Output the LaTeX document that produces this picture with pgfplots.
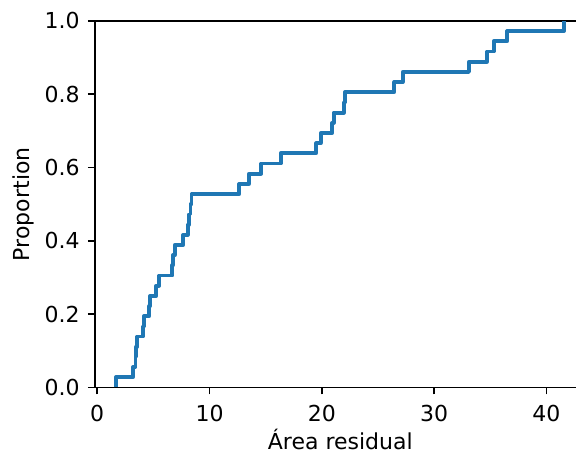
\documentclass[border=0pt]{standalone}
\usepackage{fontspec}
\setmainfont{DejaVu Sans}
\usepackage{pgfplots}
\pgfplotsset{compat=1.18}
\definecolor{tabblue}{HTML}{1F77B4}

\begin{document}
\fontsize{11}{13}\selectfont
\begin{tikzpicture}
\begin{axis}[
    name=ax,
    scale only axis,
    width=240.5pt, height=183.25pt,
    xmin=-0.2, xmax=42.63,
    ymin=0, ymax=1,
    axis x line*=box, axis y line*=left,
    axis line style={line width=0.8pt, -},
    xtick={0,10,20,30,40},
    ytick={0,0.2,0.4,0.6,0.8,1},
    tick align=outside,
    xtick pos=bottom, ytick pos=left,
    major tick length=3.5pt,
    tick style={line width=0.8pt, black},
    /pgf/number format/assume math mode=true,
    ticklabel style={font=\fontsize{11}{13}\selectfont},
    yticklabel style={/pgf/number format/fixed, /pgf/number format/precision=1,
        /pgf/number format/fixed zerofill, xshift=-0.3pt},
    xticklabel style={yshift=-1.6pt},
    label style={font=\fontsize{11}{13}\selectfont},
    xlabel={Área residual},
    ylabel={Proportion},
    xlabel style={at={(axis description cs:0.51,-0.1684)}, anchor=base},
    ylabel style={at={(axis description cs:-0.1362,0.5)}, anchor=base},
]
% ECDF of 36 values (steps-post)
\addplot[const plot, tabblue, line width=1.9pt, line join=round] coordinates {
    (1.65,0)
    (1.65,0.02778) (3.18,0.05556) (3.40,0.08333) (3.44,0.11111) (3.54,0.13889)
    (4.08,0.16667) (4.15,0.19444) (4.63,0.22222) (4.72,0.25) (5.25,0.27778)
    (5.50,0.30556) (6.68,0.33333) (6.76,0.36111) (6.90,0.38889) (7.66,0.41667)
    (8.05,0.44444) (8.15,0.47222) (8.30,0.5) (8.40,0.52778) (12.65,0.55556)
    (13.50,0.58333) (14.58,0.61111) (16.33,0.63889) (19.50,0.66667) (19.90,0.69444)
    (20.93,0.72222) (21.05,0.75) (21.95,0.77778) (22.05,0.80556) (26.45,0.83333)
    (27.20,0.86111) (33.10,0.88889) (34.70,0.91667) (35.30,0.94444) (36.50,0.97222)
    (41.55,1)
};
\end{axis}
\pgfresetboundingbox
\path ([xshift=-47.5pt,yshift=-32.35pt]ax.south west) rectangle ([yshift=10.5pt]ax.north east);
\end{tikzpicture}
\end{document}
